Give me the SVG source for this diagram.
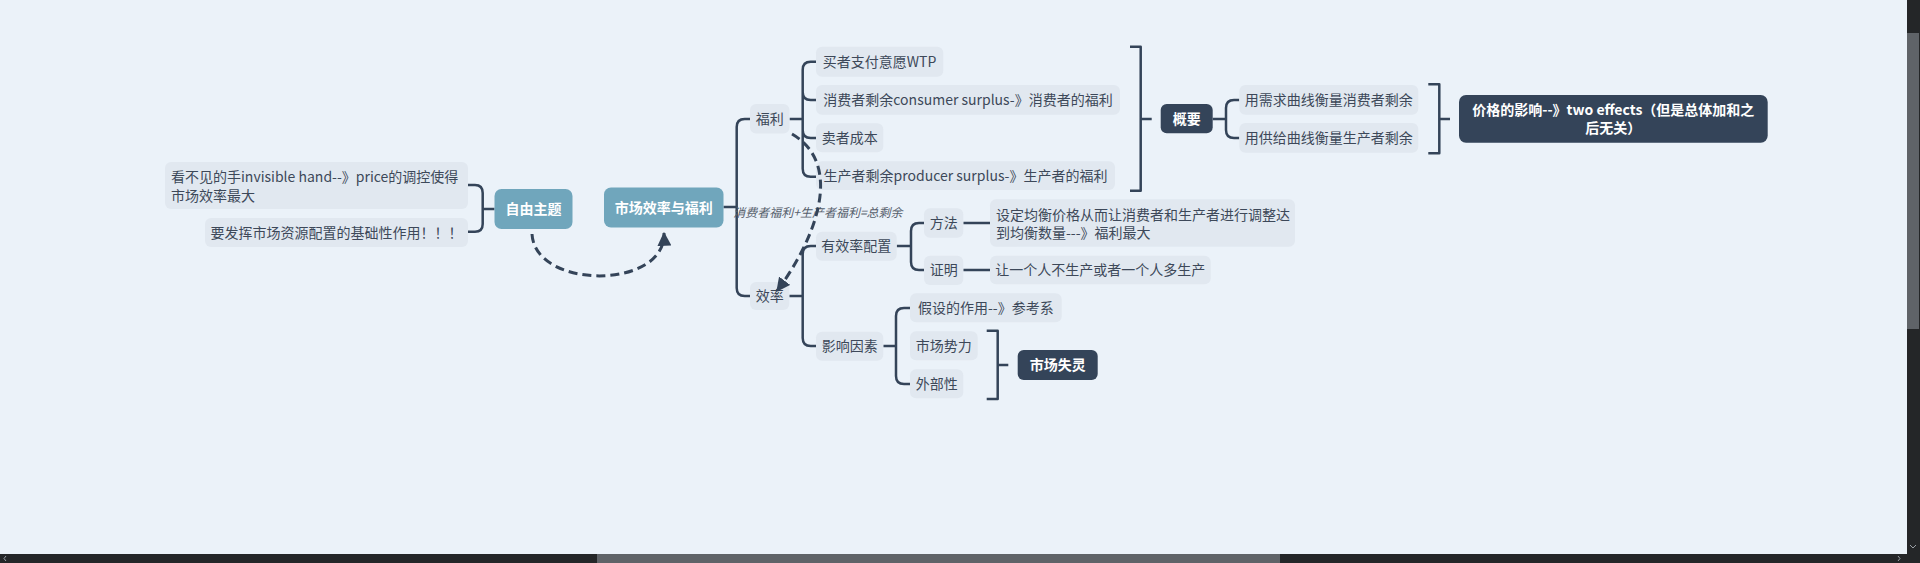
<svg xmlns="http://www.w3.org/2000/svg" width="1920" height="563" viewBox="0 0 1920 563">
<style>
.bg{fill:#ebf2f9}
.lt{fill:#e1e8f0}
.teal{fill:#70a6bc}
.dk{fill:#344459}
.t{font-family:"Noto Sans CJK SC","Noto Sans",sans-serif;font-size:14px;fill:#3d4859}
.c{text-anchor:middle}
.w{fill:#ffffff;font-weight:600}
.b{font-weight:700}
.ln{fill:none;stroke:#344459;stroke-width:2.5;stroke-linejoin:round}
.dash{fill:none;stroke:#344459;stroke-width:3;stroke-dasharray:9 5}
.lab{font-family:"Noto Sans CJK SC","Noto Sans",sans-serif;font-size:12px;font-style:italic;fill:#56606c}
</style>
<defs>
<marker id="arr" markerUnits="userSpaceOnUse" markerWidth="14" markerHeight="14" viewBox="0 0 12 12" refX="11" refY="6" orient="auto">
<path d="M0,0 L12,6 L0,12 z" fill="#344459"/>
</marker>
</defs>
<rect class="bg" x="0" y="0" width="1920" height="563"/>

<g id="connectors">
<path class="ln" d="M468,185 L475,185 Q482.7,185 482.7,193 L482.7,224 Q482.7,231.7 475,231.7 L468,231.7 M482.7,209 L494.5,209"/>
<path class="ln" d="M723.5,207 L736.7,207 M750,119 L744.7,119 Q736.7,119 736.7,127 L736.7,288 Q736.7,296 744.7,296 L750,296"/>
<path class="ln" d="M789.5,119 L802.7,119 M816,61.7 L810.7,61.7 Q802.7,61.7 802.7,69.7 L802.7,168.7 Q802.7,176.7 810.7,176.7 L816,176.7 M802.7,92 Q802.7,100 810.7,100 L816,100 M802.7,130 Q802.7,138 810.7,138 L816,138"/>
<path class="ln" d="M1130,46.7 L1140.7,46.7 L1140.7,190.7 L1130,190.7 M1140.7,119 L1151.7,119"/>
<path class="ln" d="M1212.7,119 L1226,119 M1239.3,100 L1234,100 Q1226,100 1226,108 L1226,130 Q1226,138 1234,138 L1239.3,138"/>
<path class="ln" d="M1428.3,84.3 L1439.3,84.3 L1439.3,153.3 L1428.3,153.3 M1439.3,119 L1450,119"/>
<path class="ln" d="M789.3,296 L802.7,296 M816,246 L810.7,246 Q802.7,246 802.7,254 L802.7,338 Q802.7,346 810.7,346 L816,346"/>
<path class="ln" d="M896.7,246 L911,246 M924,223 L919,223 Q911,223 911,231 L911,262 Q911,270 919,270 L924,270"/>
<path class="ln" d="M963.3,223 L990,223 M963.3,270 L990,270"/>
<path class="ln" d="M883.3,346 L896,346 M910,308 L904,308 Q896,308 896,316 L896,376 Q896,384 904,384 L910,384"/>
<path class="ln" d="M986.7,330.7 L997.7,330.7 L997.7,399 L986.7,399 M997.7,365 L1008.3,365"/>
<text class="lab" x="733.3" y="217">消费者福利+生产者福利=总剩余</text>
</g>

<g id="n-invisible"><rect class="lt" x="165" y="162" width="303" height="47" rx="6"/><text class="t" x="171" y="182">看不见的手invisible hand--》price的调控使得</text><text class="t" x="171" y="200.5">市场效率最大</text></g>
<g id="n-play"><rect class="lt" x="205" y="218" width="263" height="29" rx="6"/><text class="t c" x="336.5" y="237.5">要发挥市场资源配置的基础性作用！！！</text></g>
<g id="n-free"><rect class="teal" x="494.5" y="189" width="78" height="40" rx="7"/><text class="t c w" x="533.5" y="214">自由主题</text></g>
<g id="n-main"><rect class="teal" x="604" y="187.5" width="119.5" height="40" rx="7"/><text class="t c w" x="663.8" y="212.5">市场效率与福利</text></g>
<g id="n-welfare"><rect class="lt" x="750" y="104" width="39.5" height="29.5" rx="6"/><text class="t c" x="769.7" y="123.5">福利</text></g>
<g id="n-wtp"><rect class="lt" x="816" y="46.7" width="127.3" height="30" rx="6"/><text class="t c" x="879.6" y="66.7">买者支付意愿WTP</text></g>
<g id="n-cs"><rect class="lt" x="816" y="85" width="304" height="29.7" rx="6"/><text class="t c" x="968" y="104.8">消费者剩余consumer surplus-》消费者的福利</text></g>
<g id="n-cost"><rect class="lt" x="816" y="123.3" width="67.3" height="29" rx="6"/><text class="t c" x="849.7" y="142.8">卖者成本</text></g>
<g id="n-ps"><rect class="lt" x="816" y="161.3" width="299" height="28.7" rx="6"/><text class="t c" x="965.5" y="180.7">生产者剩余producer surplus-》生产者的福利</text></g>
<g id="n-summary"><rect class="dk" x="1160.7" y="104" width="52" height="29.3" rx="6"/><text class="t c w b" x="1186.7" y="123.5">概要</text></g>
<g id="n-demand"><rect class="lt" x="1239.3" y="85" width="179" height="29.7" rx="6"/><text class="t c" x="1328.8" y="104.8">用需求曲线衡量消费者剩余</text></g>
<g id="n-supply"><rect class="lt" x="1239.3" y="123" width="179" height="29.7" rx="6"/><text class="t c" x="1328.8" y="142.8">用供给曲线衡量生产者剩余</text></g>
<g id="n-price"><rect class="dk" x="1459" y="95" width="308.7" height="47.7" rx="7"/><text class="t c w b" x="1613.3" y="115">价格的影响--》two effects（但是总体加和之</text><text class="t c w b" x="1613.3" y="133">后无关）</text></g>
<g id="n-efficiency"><rect class="lt" x="750" y="282" width="39.3" height="28" rx="6"/><text class="t c" x="769.7" y="301">效率</text></g>
<g id="n-alloc"><rect class="lt" x="816" y="231.7" width="80.7" height="29" rx="6"/><text class="t c" x="856.3" y="251">有效率配置</text></g>
<g id="n-method"><rect class="lt" x="924" y="208.3" width="39.3" height="29.4" rx="6"/><text class="t c" x="943.7" y="228">方法</text></g>
<g id="n-proof"><rect class="lt" x="924" y="255.7" width="39.3" height="29.3" rx="6"/><text class="t c" x="943.7" y="275">证明</text></g>
<g id="n-set"><rect class="lt" x="990" y="199.3" width="305" height="47.4" rx="6"/><text class="t" x="996" y="220">设定均衡价格从而让消费者和生产者进行调整达</text><text class="t" x="996" y="238">到均衡数量---》福利最大</text></g>
<g id="n-let"><rect class="lt" x="990" y="255.7" width="220.7" height="28.6" rx="6"/><text class="t c" x="1100.3" y="275">让一个人不生产或者一个人多生产</text></g>
<g id="n-factors"><rect class="lt" x="816" y="331.7" width="67.3" height="29" rx="6"/><text class="t c" x="849.7" y="351">影响因素</text></g>
<g id="n-assume"><rect class="lt" x="910" y="293.3" width="151.7" height="29" rx="6"/><text class="t c" x="985.8" y="313">假设的作用--》参考系</text></g>
<g id="n-power"><rect class="lt" x="910" y="331.3" width="67.7" height="29" rx="6"/><text class="t c" x="943.8" y="351">市场势力</text></g>
<g id="n-ext"><rect class="lt" x="910" y="369.3" width="53.3" height="29" rx="6"/><text class="t c" x="936.7" y="389">外部性</text></g>
<g id="n-failure"><rect class="dk" x="1017.7" y="350" width="80" height="30" rx="6"/><text class="t c w b" x="1057.7" y="370">市场失灵</text></g>

<g id="relations">
<path class="dash" d="M532,234 C535,290 666,290 664,233" marker-end="url(#arr)"/>
<path class="dash" d="M792,134 C845,165 815,240 777,291" marker-end="url(#arr)"/>
</g>

<g id="scrollbars">
<rect x="1907" y="0" width="13" height="563" fill="#242628"/>
<rect x="1907" y="33" width="12" height="296" fill="#5f6368"/>
<rect x="0" y="554" width="1920" height="9" fill="#242628"/>
<rect x="597" y="554" width="683" height="9" fill="#5f6368"/>
<path d="M1910,545 L1913,548 L1916,545 M6,556 L4,558.5 L6,561 M1898,556 L1900,558.5 L1898,561" fill="none" stroke="#9aa0a6" stroke-width="1"/>
</g>
</svg>
